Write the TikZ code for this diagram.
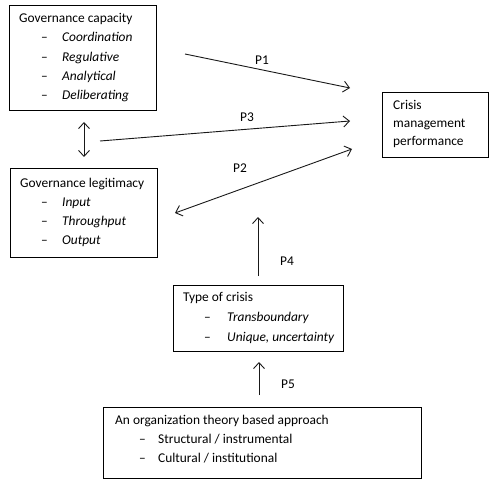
\documentclass[tikz,border=0pt]{standalone}
\usepackage{fontspec}
\setmainfont{Carlito}
\usetikzlibrary{arrows.meta}
\begin{document}
\begin{tikzpicture}[x=1pt,y=-1pt,
  every node/.style={font=\fontsize{13.4pt}{16pt}\selectfont, inner sep=0pt, text=black},
  box/.style={draw=black, line width=1pt, anchor=north west, rectangle},
  txt/.style={anchor=base west},
  lbl/.style={anchor=center},
  conn/.style={line width=0.9pt, draw=black!90, -{Straight Barb[length=6pt,width=11pt]}},
  dconn/.style={line width=0.9pt, draw=black!90, {Straight Barb[length=6pt,width=11pt]}-{Straight Barb[length=6pt,width=11pt]}}]
\useasboundingbox (0,0) rectangle (500,489);
% boxes
\node[box, minimum width=147pt, minimum height=105pt] (cap) at (9,5) {};
\node[box, minimum width=147pt, minimum height=89pt] (leg) at (10,168) {};
\node[box, minimum width=106pt, minimum height=65pt] (cmp) at (382,92) {};
\node[box, minimum width=170pt, minimum height=66pt] (toc) at (173,285) {};
\node[box, minimum width=318pt, minimum height=71pt] (org) at (103,407) {};
% Governance capacity texts
\node[txt] (capt) at (19,23) {Governance capacity};
\node[txt] (capd1) at (41,42) {\textendash};
\node[txt] (capi1) at (62,42) {\itshape Coordination};
\node[txt] (capd2) at (41,61.5) {\textendash};
\node[txt] (capi2) at (62,61.5) {\itshape Regulative};
\node[txt] (capd3) at (41,81) {\textendash};
\node[txt] (capi3) at (62,81) {\itshape Analytical};
\node[txt] (capd4) at (41,100) {\textendash};
\node[txt] (capi4) at (62,100) {\itshape Deliberating};
% Governance legitimacy texts
\node[txt] (legt) at (20,187) {Governance legitimacy};
\node[txt] (legd1) at (41,206) {\textendash};
\node[txt] (legi1) at (62,206) {\itshape Input};
\node[txt] (legd2) at (41,225) {\textendash};
\node[txt] (legi2) at (62,225) {\itshape Throughput};
\node[txt] (legd3) at (41,244) {\textendash};
\node[txt] (legi3) at (62,244) {\itshape Output};
% Crisis management performance
\node[txt] (cmp1) at (393,110) {Crisis};
\node[txt] (cmp2) at (393,128) {management};
\node[txt] (cmp3) at (393,146) {performance};
% Type of crisis
\node[txt] (toct) at (183,301) {Type of crisis};
\node[txt] (tocd1) at (204,321) {\textendash};
\node[txt] (toci1) at (227,321) {\itshape Transboundary};
\node[txt] (tocd2) at (204,341) {\textendash};
\node[txt] (toci2) at (227,341) {\itshape Unique, uncertainty};
% Organization theory
\node[txt] (orgt) at (115,424) {An organization theory based approach};
\node[txt] (orgd1) at (139,443) {\textendash};
\node[txt] (orgi1) at (158,443) {Structural / instrumental};
\node[txt] (orgd2) at (139,462) {\textendash};
\node[txt] (orgi2) at (158,462) {Cultural / institutional};
% connector end points
\coordinate (p1s) at (185,54);
\coordinate (p1e) at (350,88);
\coordinate (p3s) at (100,141);
\coordinate (p3e) at (350,121);
\coordinate (p2s) at (175,213);
\coordinate (p2e) at (352,149);
\coordinate (vs) at (84,122);
\coordinate (ve) at (84,157);
\coordinate (p4s) at (258,276);
\coordinate (p4e) at (258,217);
\coordinate (p5s) at (259,395);
\coordinate (p5e) at (259,362);
% connectors
\draw[conn] (p1s) -- (p1e);
\draw[conn] (p3s) -- (p3e);
\draw[dconn] (p2s) -- (p2e);
\draw[dconn] (vs) -- (ve);
\draw[conn] (p4s) -- (p4e);
\draw[conn] (p5s) -- (p5e);
% labels
\node[lbl] (l1) at (262,60) {P1};
\node[lbl] (l3) at (247,117) {P3};
\node[lbl] (l2) at (240,168) {P2};
\node[lbl] (l4) at (287,261) {P4};
\node[lbl] (l5) at (288,384) {P5};
\end{tikzpicture}
\end{document}
